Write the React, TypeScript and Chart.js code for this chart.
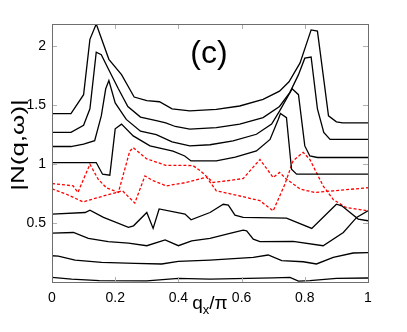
import React, { useEffect, useRef } from "react";
import { Chart, registerables } from "chart.js";

Chart.register(...registerables);

// ---- Data ----
const xTicks = [0, 0.2, 0.4, 0.6, 0.8, 1];
const yTicks = [0.5, 1, 1.5, 2];

const line1X = [0, 0.06, 0.10, 0.12, 0.14, 0.18, 0.22, 0.26, 0.30, 0.34, 0.38, 0.436, 0.52, 0.594, 0.668, 0.72, 0.75, 0.785, 0.82, 0.84, 0.86, 0.875, 0.90, 0.92, 1];
const line1Y = [1.43, 1.43, 1.59, 2.06, 2.19, 1.89, 1.76, 1.57, 1.54, 1.53, 1.47, 1.452, 1.465, 1.494, 1.55, 1.62, 1.70, 1.86, 2.14, 2.13, 1.72, 1.41, 1.36, 1.35, 1.35];

const line2X = [0, 0.06, 0.10, 0.12, 0.14, 0.156, 0.18, 0.21, 0.24, 0.28, 0.33, 0.36, 0.39, 0.436, 0.52, 0.594, 0.668, 0.72, 0.753, 0.78, 0.80, 0.82, 0.84, 0.86, 0.88, 1];
const line2Y = [1.27, 1.27, 1.33, 1.47, 1.95, 1.93, 1.80, 1.64, 1.49, 1.40, 1.37, 1.35, 1.32, 1.297, 1.31, 1.34, 1.395, 1.49, 1.61, 1.76, 1.90, 1.91, 1.47, 1.27, 1.21, 1.21];

const line3X = [0, 0.06, 0.10, 0.135, 0.156, 0.17, 0.18, 0.20, 0.235, 0.28, 0.33, 0.38, 0.436, 0.50, 0.573, 0.647, 0.695, 0.72, 0.76, 0.78, 0.80, 0.816, 0.84, 1];
const line3Y = [1.15, 1.15, 1.17, 1.20, 1.41, 1.64, 1.71, 1.52, 1.38, 1.28, 1.25, 1.19, 1.155, 1.165, 1.197, 1.254, 1.34, 1.45, 1.64, 1.59, 1.155, 1.07, 1.057, 1.057];

const line4X = [0, 0.14, 0.16, 0.183, 0.20, 0.22, 0.257, 0.31, 0.383, 0.42, 0.44, 0.52, 0.58, 0.647, 0.69, 0.716, 0.723, 0.742, 0.758, 0.774, 1];
const line4Y = [1.014, 1.014, 0.915, 0.907, 1.30, 1.34, 1.24, 1.155, 1.11, 1.07, 1.028, 1.028, 1.06, 1.113, 1.21, 1.38, 1.43, 1.395, 0.957, 0.915, 0.915];

const redAX = [0, 0.067, 0.082, 0.12, 0.146, 0.172, 0.21, 0.246, 0.257, 0.30, 0.36, 0.425, 0.447, 0.47, 0.51, 0.55, 0.605, 0.658, 0.70, 0.72, 0.742, 0.785, 0.83, 0.89, 1];
const redAY = [0.836, 0.816, 0.76, 1.0, 0.873, 0.80, 0.76, 1.11, 1.14, 1.045, 0.99, 0.99, 0.986, 0.943, 0.845, 0.858, 0.878, 1.04, 0.887, 0.93, 0.873, 0.79, 0.76, 0.774, 0.80];

const redBX = [0, 0.046, 0.098, 0.172, 0.223, 0.262, 0.294, 0.32, 0.362, 0.425, 0.489, 0.52, 0.595, 0.658, 0.70, 0.737, 0.763, 0.795, 0.816, 0.858, 0.89, 0.93, 1];
const redBY = [0.79, 0.745, 0.68, 0.737, 0.774, 0.67, 0.90, 0.86, 0.816, 0.845, 0.89, 0.774, 0.73, 0.69, 0.604, 0.83, 1.03, 1.10, 1.04, 0.816, 0.70, 0.633, 0.604];

const line5X = [0, 0.105, 0.12, 0.163, 0.242, 0.258, 0.30, 0.32, 0.339, 0.421, 0.44, 0.50, 0.542, 0.558, 0.579, 0.605, 0.742, 0.822, 0.90, 0.917, 0.969, 1];
const line5Y = [0.576, 0.59, 0.61, 0.548, 0.464, 0.477, 0.59, 0.455, 0.62, 0.576, 0.528, 0.59, 0.66, 0.652, 0.568, 0.548, 0.542, 0.455, 0.66, 0.647, 0.534, 0.52];

const line6X = [0, 0.068, 0.115, 0.178, 0.242, 0.30, 0.358, 0.40, 0.442, 0.50, 0.563, 0.605, 0.616, 0.637, 0.658, 0.763, 0.858, 0.922, 0.964, 1];
const line6Y = [0.415, 0.42, 0.37, 0.342, 0.33, 0.308, 0.358, 0.308, 0.35, 0.37, 0.413, 0.44, 0.435, 0.364, 0.342, 0.345, 0.308, 0.42, 0.548, 0.604];

const line7X = [0, 0.02, 0.073, 0.157, 0.263, 0.347, 0.40, 0.50, 0.637, 0.684, 0.727, 0.795, 0.837, 0.89, 0.953, 1];
const line7Y = [0.223, 0.22, 0.186, 0.167, 0.158, 0.153, 0.175, 0.186, 0.209, 0.229, 0.181, 0.172, 0.153, 0.209, 0.246, 0.25];

const line8X = [0, 0.062, 0.15, 0.30, 0.40, 0.50, 0.70, 0.753, 0.78, 0.816, 0.90, 1];
const line8Y = [0.04, 0.025, 0.012, 0.01, 0.03, 0.025, 0.035, 0.04, 0.008, 0.012, 0.03, 0.034];

const panelLabel = "(c)";
const yTitle = "|N(q,ω)|";

const FONT = "'Liberation Sans', Arial, Helvetica, sans-serif";

function pts(xs: number[], ys: number[]) {
  return xs.map((x, i) => ({ x, y: ys[i] }));
}

const blackSeries = [
  [line1X, line1Y],
  [line2X, line2Y],
  [line3X, line3Y],
  [line4X, line4Y],
  [line5X, line5Y],
  [line6X, line6Y],
  [line7X, line7Y],
  [line8X, line8Y],
];
const redSeries = [
  [redAX, redAY],
  [redBX, redBY],
];

const decorPlugin = {
  id: "decor",
  afterDatasetsDraw(chart: any) {
    const { ctx, chartArea: a, scales } = chart;
    const xs = scales.x;
    const ys = scales.y;
    ctx.save();
    // inward ticks
    ctx.strokeStyle = "#b0b0b0";
    ctx.lineWidth = 1;
    const tl = 5;
    ctx.beginPath();
    for (const v of xTicks) {
      const px = Math.round(xs.getPixelForValue(v)) + 0.5;
      ctx.moveTo(px, a.bottom);
      ctx.lineTo(px, a.bottom - tl);
      ctx.moveTo(px, a.top);
      ctx.lineTo(px, a.top + tl);
    }
    for (const v of yTicks) {
      const py = Math.round(ys.getPixelForValue(v)) + 0.5;
      ctx.moveTo(a.left, py);
      ctx.lineTo(a.left + tl, py);
      ctx.moveTo(a.right, py);
      ctx.lineTo(a.right - tl, py);
    }
    ctx.stroke();
    // frame
    ctx.strokeStyle = "#6e6e6e";
    ctx.strokeRect(Math.round(a.left) + 0.5, Math.round(a.top) + 0.5, Math.round(a.right - a.left), Math.round(a.bottom - a.top));
    // panel label
    ctx.fillStyle = "#000";
    ctx.font = `32px ${FONT}`;
    ctx.textAlign = "center";
    ctx.textBaseline = "middle";
    ctx.fillText(panelLabel, 209, 54);
    // x title: q_x/π
    const cx = (a.left + a.right) / 2;
    ctx.textBaseline = "alphabetic";
    ctx.textAlign = "left";
    ctx.font = `19px ${FONT}`;
    const wq = ctx.measureText("q").width;
    const wp = ctx.measureText("/π").width;
    ctx.font = `13px ${FONT}`;
    const wx = ctx.measureText("x").width;
    const total = wq + wx + wp;
    const x0 = cx - total / 2;
    ctx.font = `19px ${FONT}`;
    ctx.fillText("q", x0, 309);
    ctx.font = `13px ${FONT}`;
    ctx.fillText("x", x0 + wq, 314);
    ctx.font = `19px ${FONT}`;
    ctx.fillText("/π", x0 + wq + wx, 309);
    // y title rotated
    ctx.translate(19, 145);
    ctx.rotate(-Math.PI / 2);
    ctx.scale(1, 0.7);
    ctx.font = `26px ${FONT}`;
    ctx.textAlign = "center";
    ctx.textBaseline = "middle";
    ctx.fillText(yTitle, 0, 0);
    ctx.restore();
  },
};

export default function App() {
  const ref = useRef<HTMLCanvasElement>(null);
  useEffect(() => {
    if (!ref.current) return;
    const datasets: any[] = [];
    blackSeries.forEach(([xs, ys]) =>
      datasets.push({
        data: pts(xs, ys),
        borderColor: "#000",
        borderWidth: 1.3,
        pointRadius: 0,
        tension: 0,
        fill: false,
      })
    );
    redSeries.forEach(([xs, ys]) =>
      datasets.push({
        data: pts(xs, ys),
        borderColor: "rgb(255,0,0)",
        borderWidth: 1.3,
        borderDash: [3, 2],
        pointRadius: 0,
        tension: 0,
        fill: false,
      })
    );
    const chart = new Chart(ref.current, {
      type: "line",
      data: { datasets },
      options: {
        animation: false,
        responsive: false,
        layout: { padding: { top: 24, right: 39, left: 0, bottom: 0 } },
        plugins: { legend: { display: false }, tooltip: { enabled: false }, title: { display: false } },
        scales: {
          x: {
            type: "linear",
            min: 0,
            max: 1,
            grid: { display: false, drawTicks: false },
            border: { display: false },
            afterBuildTicks: (s: any) => {
              s.ticks = xTicks.map((v) => ({ value: v }));
            },
            afterFit: (s: any) => {
              s.height = 50;
            },
            ticks: {
              color: "#000",
              padding: 8,
              maxRotation: 0,
              font: { family: FONT, size: 14 },
              callback: (v: any) => String(v),
            },
          },
          y: {
            type: "linear",
            min: 0,
            max: 2.19,
            grid: { display: false, drawTicks: false },
            border: { display: false },
            afterBuildTicks: (s: any) => {
              s.ticks = yTicks.map((v) => ({ value: v }));
            },
            afterFit: (s: any) => {
              s.width = 52;
            },
            ticks: {
              color: "#000",
              padding: 6,
              font: { family: FONT, size: 14 },
              callback: (v: any) => String(v),
            },
          },
        },
      },
      plugins: [decorPlugin],
    });
    return () => chart.destroy();
  }, []);
  return (
    <div style={{ position: "fixed", left: 0, top: 0, width: 407, height: 332, background: "#fff" }}>
      <canvas ref={ref} width={407} height={332} />
    </div>
  );
}
